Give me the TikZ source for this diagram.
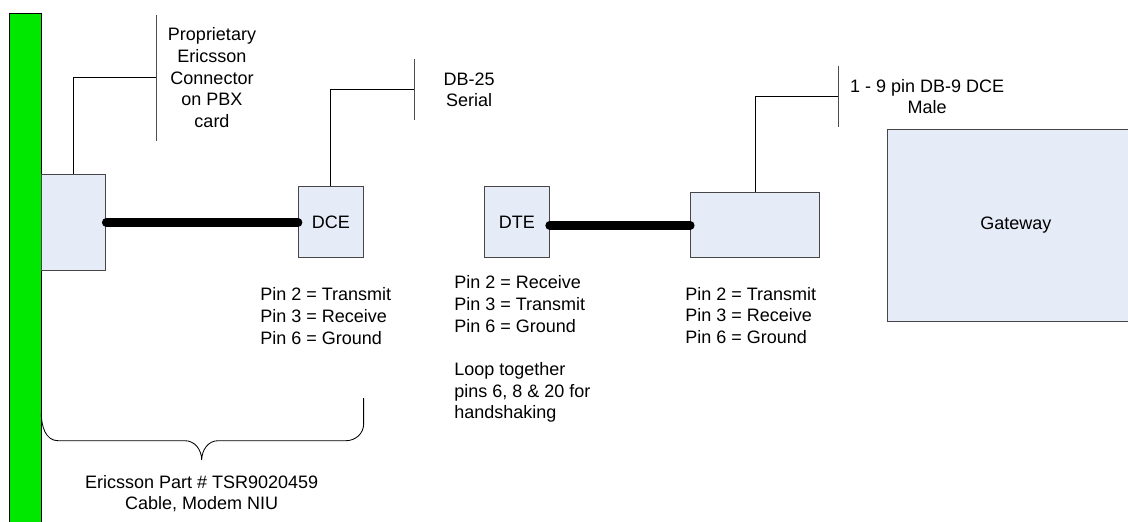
\documentclass[tikz,border=0pt]{standalone}
\usepackage{fontspec}
\setmainfont{Liberation Sans}
\usetikzlibrary{positioning, calc}

\definecolor{boxfill}{RGB}{230,236,247}
\definecolor{boxline}{RGB}{70,70,70}
\definecolor{cardgreen}{RGB}{0,232,0}

\begin{document}
\begin{tikzpicture}[
        % one unit = one pixel of the drawing (0.025cm)
        x=0.025cm, y=0.025cm,
        every node/.style={font=\fontsize{12.8pt}{15.4pt}\selectfont},
        card/.style={draw=black, fill=cardgreen, line width=0.7pt,
                     minimum width=0.81cm, minimum height=13.15cm},
        box/.style={draw=boxline, fill=boxfill, line width=0.6pt, inner sep=0pt},
        plug/.style={box, minimum width=1.615cm, minimum height=1.775cm},
        cable/.style={line width=0.21cm, line cap=round},
        callout/.style={line width=0.6pt},
        calloutbar/.style={draw=black!70, line width=0.7pt},
        note/.style={align=left, inner sep=0pt, anchor=north west},
        label/.style={align=center, inner sep=0pt}
    ]
    \clip (0,0) rectangle (1128,-521);

    % --- PBX card and connectors ---
    \node[card] (card) at (25.5,-277) {};
    \node[box, minimum width=1.6cm, minimum height=2.42cm] (pbx) at (73.7,-222.4) {};
    \node[plug, right=4.8cm of pbx] (dce) {DCE};
    \node[plug, right=3.01cm of dce] (dte) {DTE};
    \node[box, minimum width=3.225cm, minimum height=1.625cm,
          right=3.52cm of dte, yshift=-0.075cm] (db9) {};
    \node[box, minimum width=6.43cm, minimum height=4.81cm,
          right=1.665cm of db9] (gateway) {Gateway};

    % --- Cables ---
    \draw[cable] (pbx.east) -- (dce.west);
    \draw[cable] (dte.east |- db9.west) -- (db9.west);

    % --- Callouts ---
    \coordinate (pbxtip) at ($(pbx.north)+(83,95.7)$);
    \draw[callout] (pbx.north) |- (pbxtip);
    \draw[calloutbar] ($(pbxtip)+(0,63.3)$) -- ($(pbxtip)+(0,-63.4)$);
    \node[label, right=0.275cm of pbxtip] (pbxnote)
        {Proprietary\\Ericsson\\Connector\\on PBX\\card};

    \coordinate (dcetip) at ($(dce.north)+(83.3,96.6)$);
    \draw[callout] (dce.north) |- (dcetip);
    \draw[calloutbar] ($(dcetip)+(0,30.5)$) -- ($(dcetip)+(0,-30.5)$);
    \node[label, right=0.73cm of dcetip] (dcenote) {DB-25\\Serial};

    \coordinate (db9tip) at ($(db9.north)+(83.5,96)$);
    \draw[callout] (db9.north) |- (db9tip);
    \draw[calloutbar] ($(db9tip)+(0,30.8)$) -- ($(db9tip)+(0,-30.8)$);
    \node[label, right=0.275cm of db9tip] (db9note) {1 - 9 pin DB-9 DCE\\Male};

    % --- Pin assignments ---
    \node[note] (dcepins) at (260,-287.5)
        {Pin 2 = Transmit\\Pin 3 = Receive\\Pin 6 = Ground};
    \node[note] (dtepins) at (454,-275.5)
        {Pin 2 = Receive\\Pin 3 = Transmit\\Pin 6 = Ground\\[15.4pt]
         Loop together\\pins 6, 8 \& 20 for\\handshaking};
    \node[note] (db9pins) at (685,-287)
        {Pin 2 = Transmit\\Pin 3 = Receive\\Pin 6 = Ground};

    % --- Cable brace ---
    \coordinate (bracetip) at (201.7,-460);
    \draw[callout] (dce.east |- 0,-398) -- (dce.east |- 0,-424)
        to[out=-90,in=0] (346,-440.7) -- (218,-440.7)
        to[out=180,in=90] (bracetip)
        to[out=90,in=0] (185,-440.7) -- (58,-440.7)
        to[out=180,in=-90] (pbx.west |- 0,-413);
    \node[label, below=0.37cm of bracetip] (partnote)
        {Ericsson Part \# TSR9020459\\Cable, Modem NIU};

\end{tikzpicture}
\end{document}
